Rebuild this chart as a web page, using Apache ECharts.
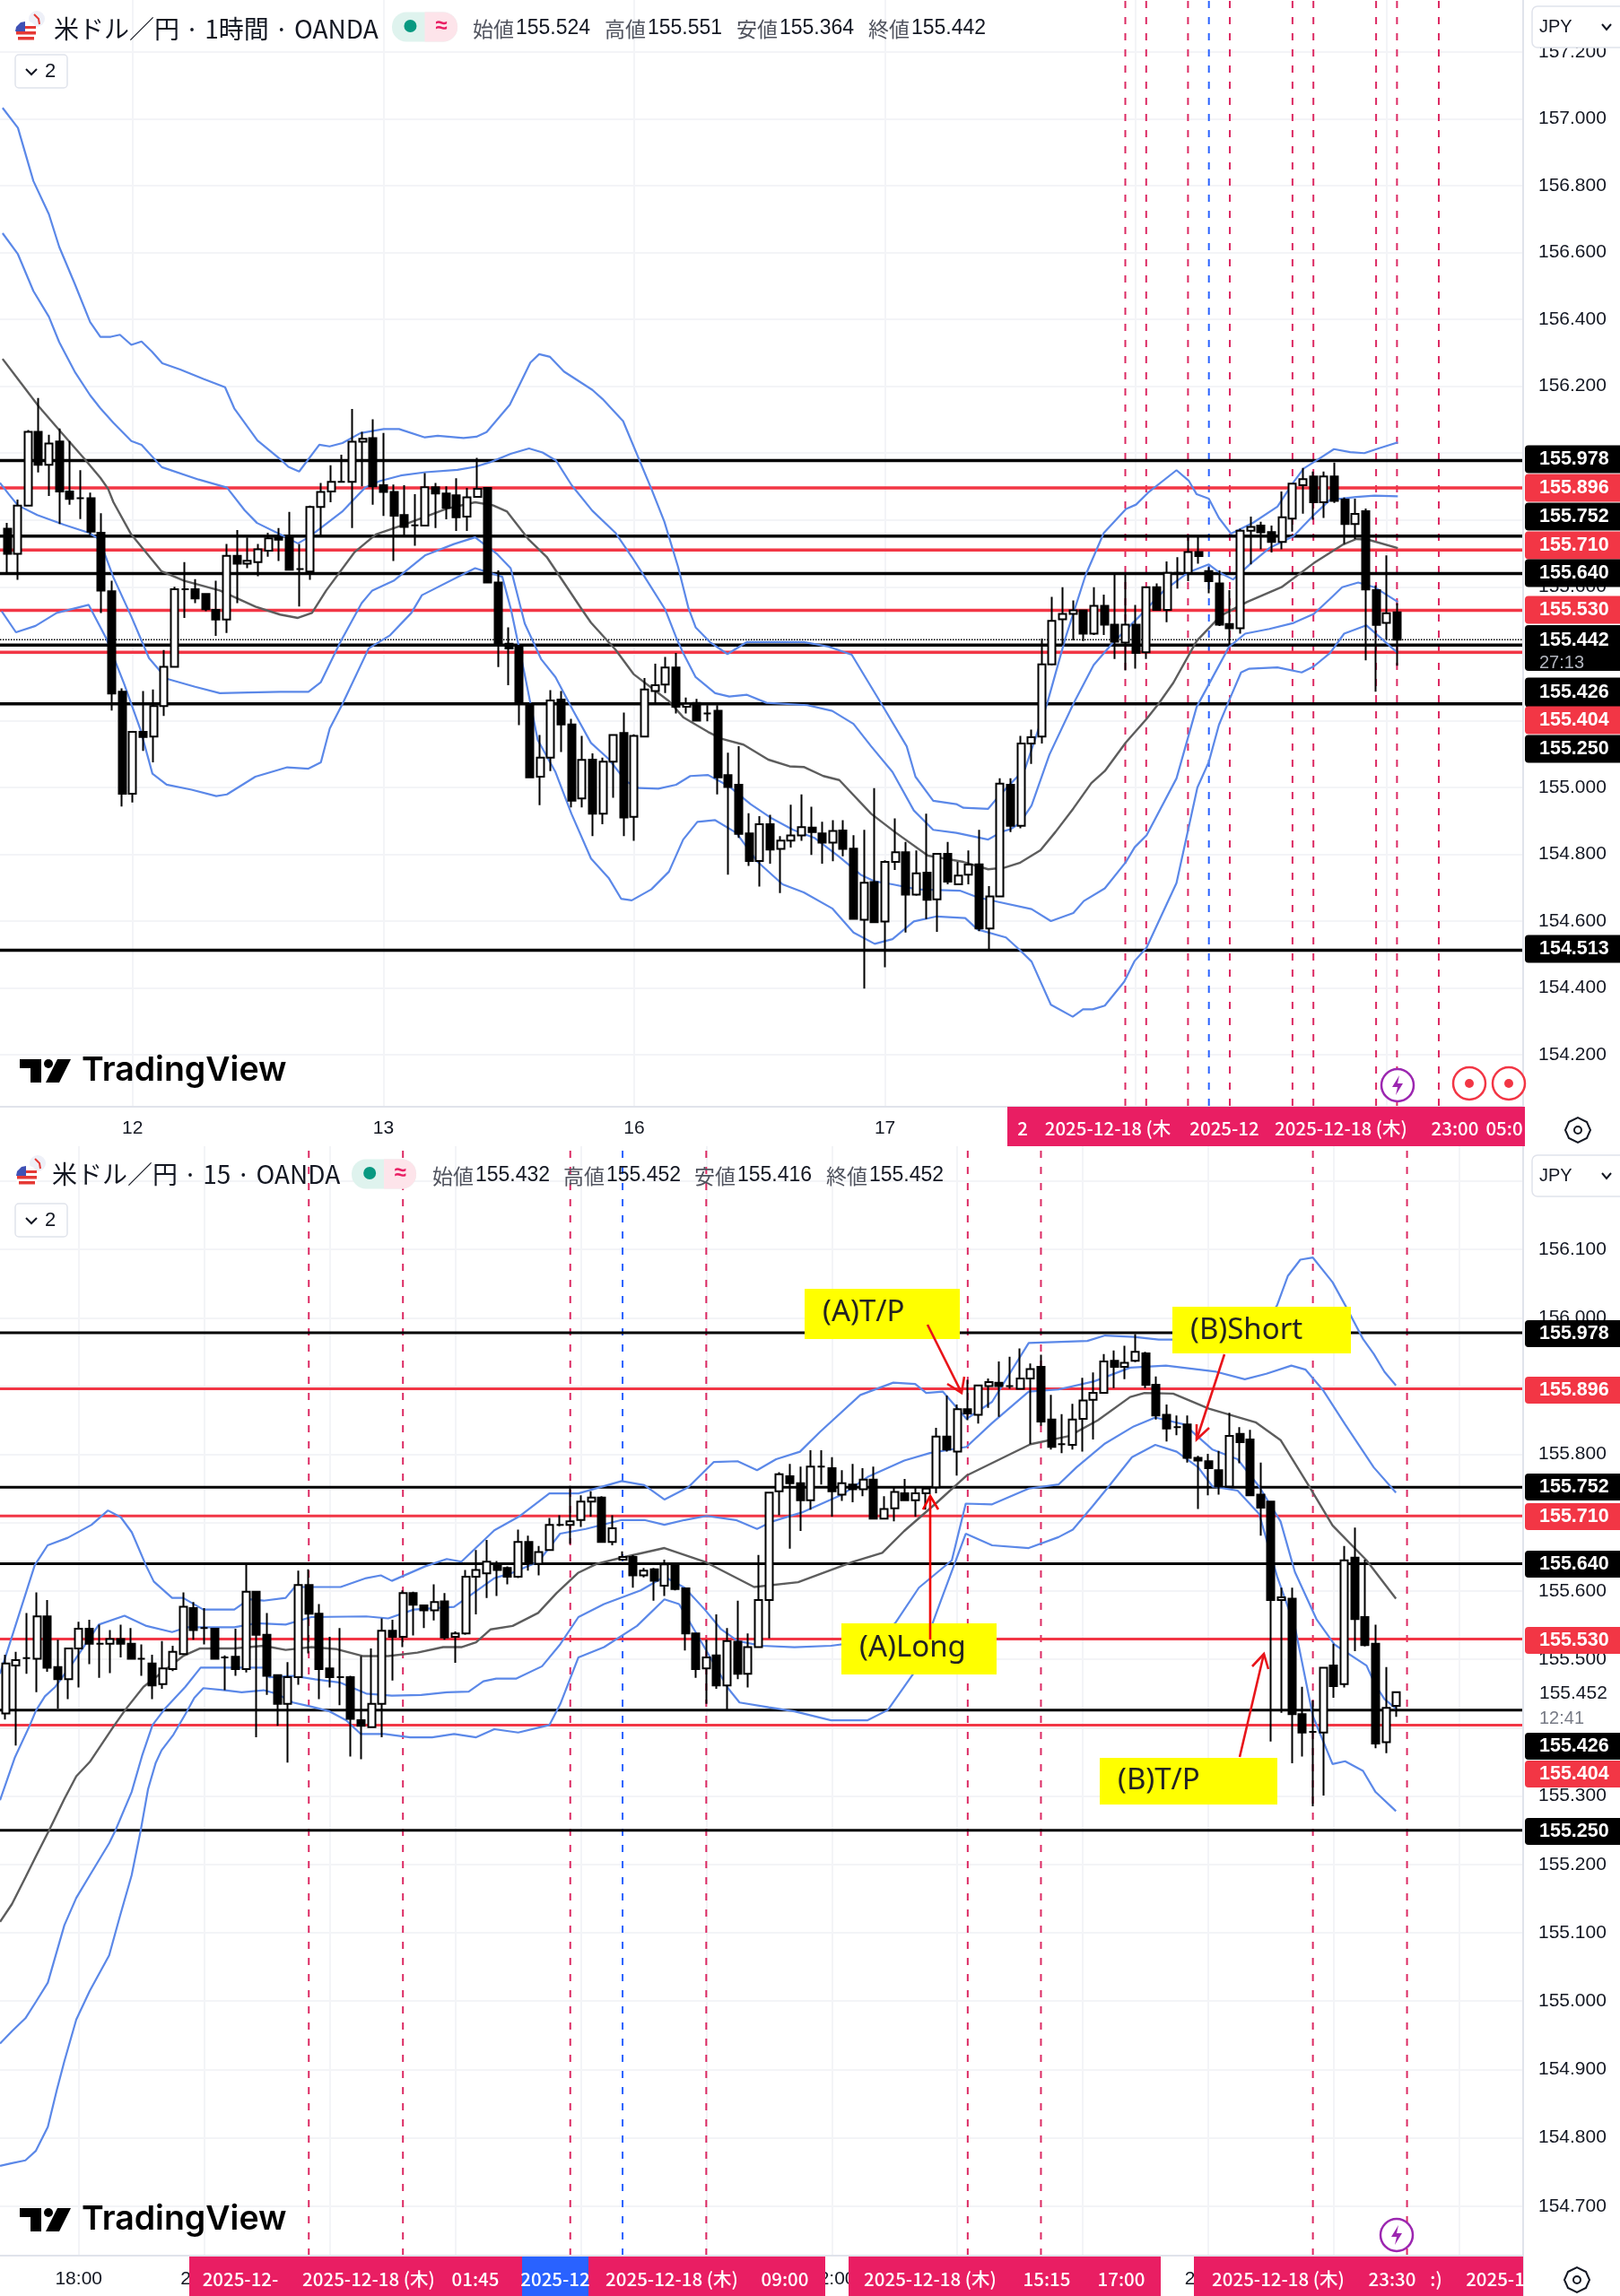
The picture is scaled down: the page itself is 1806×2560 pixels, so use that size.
<!DOCTYPE html>
<html>
<head>
<meta charset="utf-8">
<title>USDJPY</title>
<script src="https://cdn.jsdelivr.net/npm/echarts@6/dist/echarts.min.js"></script>
<style>
html, body { margin: 0; padding: 0; background: #fff; }
#chart { width: 1806px; height: 2560px; }
</style>
</head>
<body>
<div id="chart"></div>
<script>
// shared horizontal levels
const blackLevels = [155.978, 155.752, 155.64, 155.426, 155.25];
const redLevels = [155.896, 155.71, 155.53, 155.404];
const h1OnlyLevel = 154.513;
const h1LastPrice = 155.442;

// 1 hour chart, one row per bar: open, close, low, high
const h1Ohlc = [
[155.774,155.699,155.642,155.791],[155.699,155.843,155.621,155.861],[155.843,156.064,155.843,156.069],[156.064,155.965,155.942,156.165],
[155.965,156.029,155.872,156.055],[156.035,155.885,155.788,156.074],[155.885,155.863,155.846,156.036],[155.865,155.865,155.803,155.949],
[155.865,155.765,155.757,155.882],[155.762,155.589,155.522,155.82],[155.587,155.281,155.23,155.618],[155.286,154.981,154.943,155.296],
[154.981,155.166,154.955,155.166],[155.166,155.151,155.109,155.288],[155.152,155.243,155.075,155.293],[155.243,155.361,155.214,155.411],
[155.361,155.593,155.361,155.6],[155.593,155.593,155.507,155.674],[155.593,155.565,155.551,155.623],[155.579,155.533,155.527,155.579],
[155.531,155.502,155.453,155.618],[155.502,155.693,155.462,155.728],[155.693,155.669,155.551,155.77],[155.669,155.678,155.656,155.748],
[155.674,155.712,155.632,155.728],[155.708,155.745,155.69,155.762],[155.748,155.741,155.677,155.776],[155.749,155.651,155.651,155.824],
[155.653,155.653,155.541,155.728],[155.646,155.839,155.621,155.843],[155.839,155.884,155.752,155.911],[155.885,155.914,155.853,155.964],
[155.914,155.914,155.914,155.995],[155.914,156.034,155.776,156.132],[156.034,156.043,155.901,156.064],[156.045,155.901,155.846,156.101],
[155.904,155.884,155.812,156.06],[155.884,155.813,155.677,155.906],[155.815,155.779,155.752,155.904],[155.784,155.784,155.723,155.877],
[155.783,155.898,155.783,155.94],[155.898,155.879,155.776,155.911],[155.879,155.836,155.802,155.901],[155.874,155.808,155.767,155.925],
[155.81,155.868,155.767,155.896],[155.869,155.893,155.868,155.986],[155.896,155.613,155.61,155.896],[155.613,155.426,155.36,155.649],
[155.43,155.416,155.306,155.479],[155.424,155.25,155.186,155.424],[155.25,155.03,155.03,155.25],[155.032,155.089,154.947,155.157],
[155.089,155.26,155.049,155.291],[155.263,155.188,155.106,155.288],[155.188,154.96,154.94,155.205],[154.967,155.082,154.94,155.154],
[155.083,154.921,154.854,155.102],[154.921,155.077,154.89,155.089],[155.077,155.157,154.969,155.157],[155.163,154.91,154.854,155.224],
[154.912,155.154,154.84,155.159],[155.152,155.293,155.152,155.327],[155.288,155.306,155.25,155.37],[155.308,155.359,155.282,155.39],
[155.359,155.241,155.221,155.402],[155.241,155.25,155.221,155.269],[155.253,155.2,155.197,155.265],[155.221,155.221,155.198,155.246],
[155.229,155.03,154.979,155.246],[155.037,155.001,154.739,155.104],[155.008,154.861,154.849,155.123],[154.862,154.78,154.765,154.923],
[154.78,154.89,154.703,154.914],[154.89,154.814,154.772,154.918],[154.816,154.841,154.684,154.854],[154.841,154.856,154.82,154.948],
[154.856,154.881,154.84,154.979],[154.88,154.866,154.798,154.942],[154.862,154.835,154.772,154.897],[154.835,154.87,154.779,154.902],
[154.871,154.816,154.794,154.902],[154.817,154.607,154.604,154.857],[154.604,154.715,154.398,154.873],[154.717,154.597,154.597,154.998],
[154.599,154.777,154.462,154.782],[154.777,154.806,154.753,154.907],[154.806,154.679,154.566,154.837],[154.679,154.743,154.676,154.811],
[154.745,154.664,154.606,154.921],[154.665,154.801,154.568,154.801],[154.801,154.718,154.71,154.837],[154.71,154.736,154.708,154.777],
[154.739,154.769,154.71,154.811],[154.77,154.578,154.57,154.873],[154.578,154.674,154.513,154.705],[154.674,155.011,154.674,155.027],
[155.008,154.885,154.866,155.027],[154.885,155.131,154.878,155.154],[155.131,155.15,155.07,155.173],[155.152,155.368,155.131,155.445],
[155.368,155.498,155.365,155.57],[155.503,155.519,155.425,155.599],[155.519,155.53,155.44,155.559],[155.53,155.46,155.438,155.53],
[155.46,155.543,155.456,155.599],[155.543,155.487,155.456,155.577],[155.487,155.436,155.384,155.64],[155.433,155.487,155.35,155.638],
[155.487,155.402,155.355,155.546],[155.404,155.599,155.384,155.599],[155.599,155.531,155.531,155.61],[155.531,155.642,155.494,155.676],
[155.642,155.642,155.595,155.689],[155.642,155.704,155.617,155.752],[155.704,155.692,155.669,155.752],[155.647,155.617,155.581,155.659],
[155.61,155.487,155.483,155.649],[155.489,155.476,155.429,155.59],[155.476,155.768,155.46,155.774],[155.768,155.779,155.667,155.81],
[155.783,155.763,155.712,155.795],[155.764,155.734,155.703,155.783],[155.734,155.808,155.712,155.885],[155.804,155.909,155.765,155.909],
[155.904,155.922,155.819,155.956],[155.93,155.853,155.801,155.945],[155.853,155.93,155.806,155.945],[155.93,155.857,155.851,155.972],
[155.861,155.788,155.728,155.867],[155.788,155.818,155.743,155.864],[155.826,155.592,155.38,155.834],[155.59,155.486,155.286,155.604],
[155.492,155.521,155.442,155.694],[155.524,155.442,155.364,155.551]
];

// 1 hour bollinger bands and average: [bar index, price]
const h1Upper2 = [[-0.44,157.033],[1.03,156.973],[2.51,156.814],[3.99,156.715],[4.98,156.617],[6.46,156.507],[7.94,156.392],[8.92,156.348],[9.91,156.348],[10.79,156.354],[11.88,156.324],[12.86,156.334],[13.85,156.304],[14.84,156.269],[16.56,156.25],[18.78,156.222],[20.85,156.197],[21.73,156.134],[23.95,156.038],[26.17,155.981],[26.91,155.959],[27.94,155.945],[29.87,156.025],[30.85,156.02],[32.08,156.03],[33.81,156.06],[36.03,156.072],[37.5,156.072],[39.97,156.047],[41.2,156.052],[43.67,156.045],[44.9,156.049],[45.88,156.063],[48.1,156.145],[50.07,156.271],[50.91,156.296],[51.95,156.288],[53.28,156.244],[56,156.189],[56.97,156.162],[58.94,156.096],[61.65,155.893],[62.89,155.795],[64.2,155.66],[65.2,155.536],[65.88,155.479],[67.24,155.435],[68.93,155.399],[70.8,155.435],[76.23,155.435],[78.61,155.421],[80.82,155.397],[83.7,155.248],[86.08,155.123],[86.92,155.032],[88.62,154.96],[90.83,154.95],[91.51,154.939],[93.88,154.936],[94.9,154.974],[97.41,155.056],[99.52,155.251],[101.27,155.447],[103.2,155.635],[104.94,155.761],[107.07,155.833],[108.03,155.846],[109.19,155.882],[111.9,155.949],[113.06,155.918],[113.83,155.877],[114.99,155.864],[115.96,155.806],[117.12,155.759],[119.24,155.792],[121.56,155.84],[123.1,155.913],[124.07,155.954],[125.43,155.981],[126.97,156.012],[128.52,156.003],[129.87,156],[131.23,156.014],[133.08,156.032]];
const h1Upper1 = [[-0.44,156.658],[1.03,156.595],[2.51,156.485],[3.99,156.408],[4.98,156.332],[6.46,156.244],[7.94,156.173],[8.92,156.134],[10.15,156.091],[11.88,156.036],[12.86,156.025],[14.8,155.958],[18.32,155.921],[21.03,155.897],[22.73,155.829],[23.91,155.791],[26.12,155.757],[27.82,155.73],[28.83,155.748],[29.85,155.772],[32.06,155.825],[32.91,155.853],[34.26,155.897],[35.62,155.916],[37.66,155.933],[40.03,155.943],[43.09,155.95],[44.78,155.959],[46.14,155.972],[48.18,155.998],[49.94,156.014],[51.23,156.002],[52.52,155.978],[54.02,155.904],[55.99,155.828],[58.2,155.762],[59.77,155.69],[60.96,155.632],[62.99,155.531],[64,155.45],[64.69,155.402],[65.88,155.33],[67.75,155.282],[69.1,155.272],[70.8,155.277],[72.67,155.253],[76.57,155.246],[78.95,155.229],[80.99,155.19],[82.68,155.123],[84.72,155.046],[86.76,154.931],[88.62,154.873],[90.83,154.864],[93.88,154.844],[95.24,154.868],[96.02,154.875],[96.88,154.892],[98.03,154.946],[99.74,155.098],[102.03,155.25],[103.97,155.366],[105.71,155.429],[108.42,155.514],[110.74,155.59],[113.06,155.644],[114.99,155.667],[115.96,155.644],[117.31,155.622],[119.05,155.671],[120.79,155.716],[123.1,155.752],[125.04,155.815],[126.59,155.86],[129.1,155.869],[130.84,155.873],[133.08,155.871]];
const h1Middle = [[-0.44,156.282],[1.28,156.211],[3.01,156.14],[4.98,156.069],[7.44,155.981],[8.92,155.926],[9.66,155.893],[10.17,155.853],[11.87,155.757],[14.75,155.647],[16.96,155.618],[20.35,155.589],[23.75,155.541],[26.12,155.517],[27.82,155.507],[29.17,155.522],[30.53,155.589],[33.25,155.704],[35.28,155.757],[38,155.786],[40.03,155.81],[42.07,155.834],[44.78,155.853],[46.48,155.844],[47.84,155.825],[49.87,155.743],[51.62,155.69],[55.02,155.531],[55.87,155.493],[58.24,155.411],[59.94,155.339],[63.33,155.258],[64.69,155.21],[67.07,155.166],[68.42,155.145],[70.46,155.128],[72.84,155.083],[74.87,155.063],[76.23,155.061],[78.1,155.034],[79.63,155.022],[82.68,154.921],[85.06,154.864],[88.11,154.796],[91.51,154.777],[93.88,154.755],[95.45,154.76],[96.88,154.774],[98.88,154.812],[100.3,154.866],[102.03,154.937],[103.75,155.013],[105.04,155.049],[107.04,155.134],[109.04,155.205],[110.18,155.25],[111.6,155.313],[113.83,155.438],[116.15,155.514],[118.66,155.555],[121.95,155.599],[125.04,155.671],[127.75,155.725],[129.1,155.743],[130.26,155.741],[133.08,155.716]];
const h1Lower1 = [[-0.69,155.911],[0.16,155.877],[1.01,155.844],[2.88,155.815],[5.42,155.786],[7.8,155.762],[8.81,155.743],[10.17,155.628],[11.87,155.512],[13.57,155.387],[15.26,155.325],[17.98,155.301],[20.35,155.282],[23.07,155.284],[26.12,155.286],[28.83,155.286],[30.02,155.315],[31.89,155.435],[33.92,155.551],[34.94,155.589],[36.98,155.618],[40.03,155.695],[42.75,155.728],[44.78,155.748],[46.82,155.7],[48.18,155.656],[49.53,155.49],[51.11,155.383],[52.47,155.33],[54.17,155.229],[55.87,155.133],[57.56,155.085],[59.26,155.017],[60.45,154.998],[62.32,154.996],[64.01,155.008],[65.37,155.034],[67.07,155.037],[69.1,155.003],[71.14,154.95],[73.18,154.907],[75.21,154.873],[77.25,154.849],[79.63,154.792],[81.66,154.739],[83.02,154.719],[84.72,154.71],[87.09,154.695],[91.17,154.691],[92.87,154.671],[94.9,154.657],[98.03,154.636],[99.88,154.6],[102.03,154.624],[103.03,154.66],[105.04,154.698],[107.04,154.776],[107.9,154.821],[109.04,154.857],[111.9,155.027],[113.83,155.241],[116.92,155.42],[118.47,155.46],[120.79,155.474],[123.1,155.492],[125.04,155.519],[126.59,155.564],[127.75,155.599],[129.29,155.613],[130.84,155.599],[133.08,155.555]];
const h1Lower2 = [[-0.52,155.527],[0.84,155.464],[2.71,155.483],[4.74,155.522],[7.8,155.546],[9.49,155.445],[11.19,155.31],[12.72,155.176],[13.9,155.041],[15.26,155.008],[17.64,154.993],[20.01,154.974],[21.03,154.979],[23.75,155.032],[26.8,155.06],[28.83,155.056],[30.02,155.075],[30.87,155.176],[32.06,155.248],[34.6,155.416],[36.64,155.455],[38.68,155.522],[39.69,155.575],[44.78,155.656],[47.38,155.63],[48.23,155.53],[49.42,155.354],[50.77,155.142],[52.47,155.046],[54,154.921],[55.87,154.787],[57.56,154.729],[58.75,154.667],[59.77,154.662],[61.64,154.695],[63.33,154.748],[64.69,154.844],[66.05,154.897],[67.75,154.902],[69.78,154.864],[71.82,154.777],[74.2,154.71],[76.23,154.686],[78.95,154.638],[80.99,154.566],[83.02,154.532],[84.72,154.546],[86.76,154.599],[88.96,154.614],[91.68,154.609],[92.87,154.575],[95.58,154.551],[96.88,154.514],[98.03,154.479],[99.88,154.35],[101.97,154.314],[102.95,154.336],[103.89,154.336],[105.04,154.347],[106.9,154.419],[107.9,154.481],[109.04,154.521],[111.9,154.714],[113.9,155],[114.99,155.076],[115.96,155.187],[116.92,155.259],[118.08,155.344],[118.86,155.355],[121.56,155.359],[123.88,155.344],[125.04,155.362],[126.59,155.402],[127.94,155.46],[130.06,155.485],[133.08,155.402]];

// 15 minute chart, one row per bar: open, close, low, high
const m15Ohlc = [
[155.421,155.494,155.412,155.507],[155.491,155.499,155.374,155.511],[155.502,155.502,155.479,155.568],[155.501,155.563,155.452,155.598],
[155.563,155.488,155.482,155.587],[155.489,155.471,155.428,155.529],[155.471,155.516,155.442,155.516],[155.516,155.545,155.459,155.555],
[155.545,155.523,155.493,155.558],[155.523,155.523,155.473,155.551],[155.523,155.53,155.48,155.543],[155.53,155.523,155.503,155.551],
[155.523,155.501,155.5,155.546],[155.501,155.501,155.476,155.522],[155.494,155.462,155.442,155.507],[155.464,155.487,155.457,155.527],
[155.486,155.511,155.483,155.52],[155.508,155.577,155.507,155.598],[155.575,155.543,155.529,155.584],[155.546,155.546,155.522,155.575],
[155.545,155.501,155.5,155.545],[155.503,155.503,155.455,155.506],[155.504,155.486,155.476,155.545],[155.486,155.599,155.481,155.638],
[155.599,155.536,155.386,155.599],[155.536,155.476,155.448,155.568],[155.477,155.435,155.403,155.477],[155.435,155.474,155.349,155.496],
[155.474,155.609,155.463,155.63],[155.609,155.567,155.509,155.632],[155.567,155.486,155.442,155.581],[155.487,155.474,155.459,155.533],
[155.474,155.474,155.433,155.546],[155.474,155.413,155.358,155.476],[155.411,155.403,155.354,155.505],[155.401,155.435,155.4,155.516],
[155.435,155.542,155.386,155.56],[155.542,155.533,155.469,155.558],[155.533,155.597,155.518,155.601],[155.597,155.58,155.535,155.599],
[155.579,155.572,155.546,155.58],[155.572,155.584,155.557,155.61],[155.585,155.532,155.529,155.597],[155.533,155.538,155.495,155.541],
[155.538,155.621,155.536,155.631],[155.621,155.631,155.566,155.66],[155.626,155.643,155.59,155.675],[155.64,155.631,155.593,155.644],
[155.634,155.621,155.61,155.636],[155.621,155.672,155.619,155.69],[155.672,155.64,155.63,155.681],[155.64,155.657,155.623,155.666],
[155.66,155.697,155.659,155.707],[155.697,155.697,155.695,155.711],[155.697,155.702,155.669,155.754],[155.704,155.731,155.694,155.74],
[155.731,155.737,155.709,155.746],[155.737,155.672,155.672,155.739],[155.672,155.692,155.667,155.711],[155.646,155.65,155.645,155.658],
[155.65,155.623,155.605,155.653],[155.623,155.63,155.62,155.634],[155.632,155.615,155.586,155.634],[155.608,155.639,155.593,155.646],
[155.639,155.603,155.601,155.639],[155.604,155.538,155.513,155.604],[155.538,155.486,155.473,155.538],[155.487,155.503,155.435,155.529],
[155.506,155.462,155.457,155.566],[155.462,155.527,155.426,155.546],[155.526,155.479,155.471,155.586],[155.479,155.518,155.459,155.538],
[155.518,155.587,155.518,155.653],[155.587,155.744,155.531,155.745],[155.746,155.771,155.711,155.774],[155.768,155.758,155.662,155.786],
[155.758,155.733,155.688,155.782],[155.733,155.782,155.719,155.806],[155.782,155.782,155.756,155.806],[155.78,155.746,155.709,155.796],
[155.741,155.758,155.732,155.777],[155.756,155.749,155.73,155.786],[155.749,155.763,155.739,155.78],[155.763,155.706,155.706,155.782],
[155.706,155.72,155.706,155.739],[155.721,155.745,155.702,155.752],[155.743,155.733,155.733,155.764],[155.733,155.743,155.709,155.753],
[155.743,155.75,155.719,155.752],[155.752,155.826,155.743,155.839],[155.826,155.807,155.804,155.886],[155.804,155.866,155.769,155.873],
[155.866,155.86,155.85,155.909],[155.858,155.901,155.845,155.901],[155.9,155.906,155.868,155.911],[155.905,155.9,155.855,155.936],
[155.9,155.9,155.896,155.943],[155.896,155.911,155.896,155.955],[155.911,155.925,155.815,155.933],[155.928,155.848,155.842,155.946],
[155.851,155.811,155.807,155.887],[155.815,155.815,155.802,155.859],[155.814,155.851,155.807,155.874],[155.852,155.879,155.804,155.912],
[155.88,155.89,155.822,155.92],[155.89,155.936,155.89,155.947],[155.937,155.928,155.897,155.952],[155.928,155.934,155.91,155.959],
[155.937,155.95,155.935,155.976],[155.948,155.902,155.897,155.95],[155.902,155.857,155.851,155.914],[155.858,155.838,155.819,155.873],
[155.84,155.84,155.828,155.857],[155.844,155.795,155.788,155.857],[155.795,155.791,155.72,155.798],[155.79,155.78,155.74,155.801],
[155.777,155.753,155.741,155.805],[155.753,155.827,155.753,155.861],[155.83,155.818,155.787,155.84],[155.822,155.74,155.74,155.836],
[155.741,155.722,155.681,155.788],[155.731,155.587,155.38,155.731],[155.587,155.591,155.422,155.605],[155.589,155.42,155.348,155.605],
[155.42,155.393,155.358,155.46],[155.394,155.394,155.285,155.44],[155.393,155.488,155.301,155.488],[155.491,155.461,155.444,155.523],
[155.464,155.645,155.459,155.666],[155.649,155.559,155.512,155.693],[155.562,155.521,155.519,155.646],[155.523,155.377,155.37,155.551],
[155.379,155.429,155.363,155.489],[155.432,155.452,155.416,155.452]
];

// 15 minute bollinger bands and average: [bar index, price]
const m15Upper2 = [[-0.52,155.479],[0.53,155.529],[2.8,155.638],[4.03,155.667],[5.95,155.678],[8.23,155.697],[9.8,155.718],[11.03,155.708],[12.08,155.686],[13.48,155.636],[14.18,155.614],[15.93,155.59],[16.98,155.59],[18.91,155.573],[21.88,155.573],[23.28,155.588],[24.68,155.586],[26.79,155.59],[27.66,155.606],[32.04,155.606],[34.49,155.619],[35.89,155.623],[36.94,155.615],[40.09,155.636],[42.19,155.647],[43.59,155.643],[46.74,155.689],[49.2,155.71],[52,155.743],[53.99,155.743],[54.78,155.743],[58.91,155.761],[61.08,155.755],[63,155.734],[65.28,155.752],[67.73,155.789],[70,155.79],[71.86,155.777],[73.68,155.793],[75.96,155.804],[77.88,155.833],[81.73,155.887],[84.88,155.905],[86.98,155.903],[88.03,155.89],[89.61,155.892],[91.88,155.852],[94.33,155.877],[97.83,155.963],[103.43,155.966],[105.13,155.974],[107.87,155.972],[110.27,155.968],[111.64,155.968],[116,155.975],[120,155.985],[121.57,156.018],[122.6,156.061],[123.8,156.085],[125,156.088],[126.88,156.052],[128.42,156.009],[129.79,155.969],[130.82,155.947],[131.84,155.921],[132.94,155.901]];
const m15Upper1 = [[-0.52,155.294],[0.91,155.357],[2.34,155.404],[2.91,155.425],[3.77,155.446],[4.77,155.46],[6.48,155.496],[8.93,155.551],[11.38,155.564],[13.48,155.549],[15.93,155.54],[17.33,155.547],[21.88,155.547],[23.98,155.553],[26.79,155.551],[29.24,155.562],[34.49,155.563],[36.59,155.56],[39.04,155.573],[42.89,155.577],[46.74,155.619],[48.49,155.627],[50.95,155.643],[53.03,155.684],[55.48,155.691],[58.91,155.704],[61.08,155.704],[63,155.697],[64.93,155.704],[67.03,155.71],[69.83,155.704],[71.86,155.691],[73.33,155.702],[76.13,155.715],[79.98,155.741],[82.43,155.767],[85.93,155.791],[88.38,155.802],[91.88,155.811],[94.33,155.846],[97.83,155.892],[100.68,155.895],[104.1,155.907],[107.53,155.927],[110.95,155.93],[115.75,155.921],[118.49,155.91],[120.54,155.918],[122.94,155.93],[124.31,155.924],[126.02,155.893],[128.08,155.844],[130.82,155.781],[132.94,155.744]];
const m15Middle = [[-0.52,155.116],[0.62,155.142],[1.91,155.181],[2.91,155.212],[4.14,155.249],[5.63,155.296],[6.77,155.329],[8.06,155.35],[10.34,155.402],[11.49,155.427],[13.2,155.46],[16.98,155.505],[18.56,155.516],[21.88,155.516],[24.68,155.52],[26.79,155.514],[29.24,155.518],[31.69,155.515],[34.14,155.505],[36.59,155.505],[39.39,155.51],[41.84,155.518],[43.59,155.518],[45,155.525],[46.39,155.544],[48.49,155.549],[50.93,155.568],[52.68,155.597],[54.78,155.627],[56.53,155.64],[58.91,155.649],[63,155.663],[66.86,155.643],[71.58,155.606],[75.78,155.613],[81.03,155.643],[83.83,155.656],[85.93,155.688],[89.08,155.73],[91.88,155.769],[98.01,155.815],[101.7,155.827],[104.45,155.85],[107.53,155.884],[108.9,155.89],[111.64,155.889],[115.06,155.867],[119.52,155.847],[121.91,155.821],[124.65,155.753],[126.88,155.696],[130.13,155.645],[132.94,155.589]];
const m15Lower1 = [[-0.52,154.938],[0.62,154.956],[1.91,154.975],[2.91,154.999],[4.05,155.027],[5.63,155.111],[6.77,155.151],[8.06,155.184],[9.91,155.231],[10.49,155.249],[12.06,155.306],[13.06,155.359],[14.06,155.404],[15.2,155.427],[17.2,155.46],[18.66,155.488],[21.18,155.488],[24.68,155.488],[25.21,155.474],[27.49,155.476],[29.59,155.471],[32.04,155.466],[34.49,155.45],[36.94,155.447],[39.74,155.448],[42.19,155.452],[44.29,155.453],[45.69,155.468],[46.92,155.472],[48.85,155.472],[51.3,155.49],[53.03,155.522],[54.78,155.562],[57.23,155.581],[60.73,155.601],[63,155.621],[64.93,155.605],[66.86,155.573],[68.43,155.544],[70,155.527],[72.28,155.52],[75.43,155.518],[78.93,155.52],[82.43,155.527],[85.06,155.553],[87.33,155.605],[90.48,155.645],[91.81,155.728],[94.33,155.727],[97.83,155.75],[100.68,155.756],[102.39,155.781],[105.13,155.816],[107.87,155.841],[109.93,155.854],[112.67,155.844],[115.41,155.807],[117.8,155.793],[119.86,155.753],[121.91,155.702],[123.28,155.628],[125.34,155.559],[127.05,155.522],[130.13,155.491],[130.99,155.462],[131.84,155.442],[132.94,155.428]];
const m15Lower2 = [[-0.52,154.759],[0.62,154.763],[1.91,154.767],[2.91,154.781],[4.05,154.816],[4.91,154.87],[5.63,154.912],[6.77,154.973],[8.06,155.015],[9.91,155.067],[10.92,155.123],[12.06,155.184],[12.92,155.249],[13.63,155.31],[14.35,155.348],[14.92,155.367],[16.06,155.39],[17.2,155.42],[18.06,155.444],[18.92,155.458],[21,155.455],[22.58,155.452],[24.68,155.455],[25.91,155.45],[27.49,155.437],[29.24,155.431],[30.99,155.424],[32.56,155.411],[33.96,155.391],[36.24,155.391],[38.69,155.386],[40.79,155.386],[42.89,155.391],[45,155.386],[46.74,155.398],[49.02,155.393],[52,155.404],[53.05,155.435],[54.78,155.503],[57.23,155.518],[60.38,155.549],[63,155.588],[64.4,155.581],[65.98,155.54],[69.13,155.457],[70.18,155.437],[72.98,155.43],[75.43,155.424],[78.93,155.411],[82.43,155.411],[84.36,155.426],[86.98,155.483],[89.26,155.579],[91.81,155.684],[94.33,155.667],[97.83,155.663],[100.68,155.679],[102.05,155.69],[103.93,155.724],[105.47,155.753],[107.7,155.796],[109.93,155.814],[111.98,155.804],[114.04,155.781],[115.41,155.753],[117.8,155.747],[119.86,155.713],[121.57,155.622],[123.28,155.548],[125,155.417],[126.88,155.347],[128.08,155.351],[129.79,155.337],[130.99,155.306],[132.94,155.278]];

// vertical dashed markers, by bar index
const h1RedMarks = [107, 109, 113, 117, 123, 125, 131, 133, 137];
const h1BlueMarks = [115];
const m15RedMarks = [29, 38, 54, 67, 92, 99, 125, 134];
const m15BlueMarks = [59];

// axis ticks
const h1PriceTicks = [154.2, 154.4, 154.6, 154.8, 155, 155.2, 155.4, 155.6, 155.8, 156, 156.2, 156.4, 156.6, 156.8, 157, 157.2];
const m15PriceTicks = [154.7, 154.8, 154.9, 155, 155.1, 155.2, 155.3, 155.4, 155.5, 155.6, 155.7, 155.8, 155.9, 156, 156.1, 156.2];
const h1TimeTicks = [12, 36, 60, 84, 108, 132];
const h1TimeLabels = ['12', '13', '16', '17', '18', '19'];
const m15TimeTicks = [7, 19, 31, 43, 55, 67, 79, 91, 103, 115, 127, 139];
const m15TimeLabels = ['18:00', '21:00', '18', '03:00', '06:00', '09:00', '12:00', '15:00', '18:00', '21:00', '19', '03:00'];

const BLACK = '#000000', RED = '#f23645', PINK = '#e91e63', BLUE = '#2962ff';
const DASH_RED = '#dc2a63', BAND = '#5b88e8', AVG = '#5d5d5d', GRID = '#f3f4f7', TEXT = '#131722', FONT = '"Liberation Sans", Arial, sans-serif';
const CJK = '"Noto Sans CJK JP", sans-serif';

const h1X = [-0.687, 145.07], h1Y = [154.0473, 157.3556];
const m15X = [-0.523, 145.1], m15Y = [154.6276, 156.251];

function lineSeries(idx, data, color, width, z, type) {
  return {
    type: 'line', xAxisIndex: idx, yAxisIndex: idx, data: data, z: z,
    showSymbol: false, silent: true, smooth: false, animation: false,
    lineStyle: { color: color, width: width, type: type || 'solid' }
  };
}

function chartSeries(idx, ohlc, bands, middle, xr, yr, levels, reds, blues, levelWidth) {
  const list = [];
  reds.forEach(m => list.push(lineSeries(idx, [[m, yr[0]], [m, yr[1]]], DASH_RED, 2, 1, [8, 10])));
  blues.forEach(m => list.push(lineSeries(idx, [[m, yr[0]], [m, yr[1]]], BLUE, 2, 1, [8, 10])));
  levels.black.forEach(p => list.push(lineSeries(idx, [[xr[0], p], [xr[1], p]], BLACK, levelWidth, 2)));
  levels.red.forEach(p => list.push(lineSeries(idx, [[xr[0], p], [xr[1], p]], RED, levelWidth, 2)));
  bands.forEach(b => list.push(lineSeries(idx, b, BAND, 2.2, 3)));
  list.push(lineSeries(idx, middle, AVG, 2.4, 3));
  list.push({
    type: 'candlestick', xAxisIndex: idx, yAxisIndex: idx, z: 5, barWidth: 8.5, silent: true,
    data: ohlc.map((r, i) => [i, r[0], r[1], r[2], r[3]]),
    itemStyle: { color: '#ffffff', color0: '#000000', borderColor: '#000000', borderColor0: '#000000', borderWidth: 2 }
  });
  return list;
}

function xAxis(idx, range, ticks, labels, margin) {
  return {
    type: 'value', gridIndex: idx, min: range[0], max: range[1], scale: true,
    axisLine: { show: false },
    axisTick: { show: false, customValues: ticks },
    splitLine: { show: true, lineStyle: { color: GRID, width: 2 } },
    axisLabel: {
      customValues: ticks, margin: margin, fontSize: 21, color: TEXT, fontFamily: FONT,
      formatter: v => labels[ticks.indexOf(v)] || ''
    }
  };
}

function yAxis(idx, range, ticks) {
  return {
    type: 'value', gridIndex: idx, position: 'right', min: range[0], max: range[1], scale: true,
    axisLine: { show: false },
    axisTick: { show: false, customValues: ticks },
    splitLine: { show: true, lineStyle: { color: GRID, width: 2 } },
    axisLabel: {
      customValues: ticks, margin: 17, fontSize: 21, color: TEXT, fontFamily: FONT,
      formatter: v => v.toFixed(3)
    }
  };
}

// everything that sits on top of the two plots
const g = [];
function rect(x, y, w, h, fill, r, stroke) {
  g.push({ type: 'rect', z: 100, silent: true, shape: { x: x, y: y, width: w, height: h, r: r || 0 },
    style: { fill: fill, stroke: stroke || null, lineWidth: stroke ? 1.5 : 0 } });
}
function text(t, x, y, fill, size, family, weight, align) {
  g.push({ type: 'text', z: 101, silent: true,
    style: { text: t, x: x, y: y, fill: fill, fontSize: size, fontFamily: family || FONT, fontWeight: weight || 'normal', align: align || 'left', verticalAlign: 'middle' } });
}
function line(points, color, width) {
  g.push({ type: 'polyline', z: 100, silent: true, shape: { points: points }, style: { stroke: color, lineWidth: width, fill: null } });
}
function circle(x, y, r, fill, stroke, width) {
  g.push({ type: 'circle', z: 100, silent: true, shape: { cx: x, cy: y, r: r }, style: { fill: fill, stroke: stroke || null, lineWidth: width || 0 } });
}
function poly(points, fill, stroke, width) {
  g.push({ type: 'polygon', z: 100, silent: true, shape: { points: points }, style: { fill: fill, stroke: stroke || null, lineWidth: width || 0 } });
}

function flag(x, y) {
  circle(x + 12, y - 15, 9, '#eef0f8');
  circle(x, y, 12.5, '#ffffff');
  rect(x - 11, y - 1, 22, 3.5, '#e53935');
  rect(x - 9, y + 5, 18, 3.5, '#e53935');
  rect(x - 2, y - 7, 13, 3, '#e53935');
  poly([[x - 11, y - 6], [x - 6, y - 11], [x - 1, y - 12], [x - 1, y - 1], [x - 12, y - 1]], '#3f51b5');
  line([[x + 9, y - 20], [x + 14, y - 15], [x + 15, y - 9]], '#e53935', 2);
}

function pill(x, y, w) {
  const h = 33;
  rect(x, y - h / 2, w, h, '#dff3ee', 16);
  rect(x + w / 2, y - h / 2, w / 2, h, '#fde4ea', [0, 16, 16, 0]);
  circle(x + w * 0.28, y - 1, 7, '#089981');
  text('≈', x + w * 0.75, y - 1, '#e91e63', 24, FONT, 'bold', 'center');
}

function ohlcText(xs, y, values) {
  ['始値', '高値', '安値', '終値'].forEach((label, i) => {
    text(label, xs[i], y, '#50535e', 23, CJK);
    text(values[i], xs[i] + 48, y, TEXT, 23);
  });
}

function collapseBox(y) {
  rect(17, y, 58, 37, '#ffffff', 4, '#e0e3eb');
  line([[29, y + 16], [35, y + 22], [41, y + 16]], TEXT, 2);
  text('2', 50, y + 19, TEXT, 22);
}

function currencyBox(y) {
  rect(1708, y, 110, 46, '#ffffff', 6, '#e0e3eb');
  text('JPY', 1716, y + 23, TEXT, 20);
  line([[1786, y + 20], [1791, y + 26], [1796, y + 20]], TEXT, 2);
}

function logo(y) {
  const x = 22, h = 26;
  rect(x, y - h / 2, 24, 10, '#000000');
  rect(x + 12, y - h / 2, 12, h, '#000000');
  circle(x + 32, y - h / 2 + 5, 5, '#000000');
  poly([[x + 42, y - h / 2], [x + 57, y - h / 2], [x + 44, y + h / 2], [x + 29, y + h / 2]], '#000000');
  text('TradingView', 91, y, '#000000', 37.5, '"Inter", sans-serif', 600);
}

function hexIcon(x, y) {
  poly([[x - 10, y - 9], [x, y - 14], [x + 10, y - 9], [x + 14, y], [x + 10, y + 9], [x, y + 14], [x - 10, y + 9], [x - 14, y]], '#ffffff', TEXT, 2);
  circle(x, y, 4, '#ffffff', TEXT, 2);
}

function boltIcon(x, y) {
  circle(x, y, 18, '#ffffff', '#9c27b0', 2.5);
  poly([[x + 2, y - 11], [x - 6, y + 2], [x, y + 2], [x - 2, y + 11], [x + 6, y - 2], [x, y - 2]], '#9c27b0');
}

function pinIcon(x, y) {
  circle(x, y, 18, '#ffffff', '#f23645', 2.5);
  circle(x, y, 5, '#f23645');
}

function tag(label, y, fill, color, h) {
  rect(1700, y - h / 2, 106, h, fill, [4, 0, 0, 4]);
  text(label, 1716, y, color || '#ffffff', 21.5, FONT, 'bold');
}

function strip(x, y, w, h, fill) { rect(x, y, w, h, fill); }

function stripText(items, y) {
  items.forEach(it => text(it[0], it[1], y, '#ffffff', 20.5, CJK, 500, 'center'));
}

function note(label, tx, ty, x, y, w, h) {
  rect(x, y, w, h, '#ffff00');
  text(label, tx, ty, '#222222', 33, '"Noto Sans", sans-serif');
}

function arrow(from, tip, left, right, color) {
  line([from, tip], color, 2.6);
  line([left, tip, right], color, 2.6);
}

// frame
rect(1697, 0, 2, 2560, '#e0e3eb');
rect(0, 1233, 1698, 2, '#e0e3eb');
rect(0, 2514, 1698, 2, '#e0e3eb');

// top header
flag(29, 36);
text('米ドル／円 · 1時間 · OANDA', 60, 32, TEXT, 28, CJK);
pill(437, 30, 73);
ohlcText([527, 674, 821, 968], 32, ['155.524', '155.551', '155.364', '155.442']);
collapseBox(61);
currencyBox(7);
logo(1194);
boltIcon(1558, 1210);
pinIcon(1638, 1208);
pinIcon(1682, 1208);

// top time strip
strip(1123, 1234, 577, 44, PINK);
stripText([['2', 1140], ['2025-12-18 (木', 1235], ['2025-12', 1365], ['2025-12-18 (木)', 1495], ['23:00', 1622], ['05:0', 1677]], 1258);

// top price tags
tag('155.978', 512, BLACK, null, 31);
tag('155.896', 544, RED, null, 31);
tag('155.752', 576, BLACK, null, 31);
tag('155.710', 608, RED, null, 31);
tag('155.640', 639, BLACK, null, 31);
tag('155.530', 680, RED, null, 31);
rect(1700, 697, 106, 51, BLACK, [4, 0, 0, 4]);
text('155.442', 1716, 714, '#ffffff', 21.5, FONT, 'bold');
text('27:13', 1716, 739, '#b2b5be', 20);
tag('155.426', 772, BLACK, null, 33);
tag('155.404', 803, RED, null, 31);
tag('155.250', 835, BLACK, null, 31);
tag('154.513', 1058, BLACK, null, 31);
hexIcon(1759, 1260);

// bottom header
flag(30, 1312);
text('米ドル／円 · 15 · OANDA', 58, 1309, TEXT, 28, CJK);
pill(392, 1309, 72);
ohlcText([482, 628, 774, 921], 1311, ['155.432', '155.452', '155.416', '155.452']);
collapseBox(1342);
currencyBox(1288);
logo(2475);
boltIcon(1557, 2492);

// bottom time strips
strip(211, 2516, 371, 44, PINK);
strip(582, 2516, 74, 44, BLUE);
strip(656, 2516, 264, 44, PINK);
strip(946, 2516, 348, 44, PINK);
strip(1331, 2516, 367, 44, PINK);
stripText([['2025-12-', 268], ['2025-12-18 (木)', 411], ['01:45', 530], ['2025-12', 619], ['2025-12-18 (木)', 749], ['09:00', 875],
  ['2025-12-18 (木)', 1037], ['15:15', 1167], ['17:00', 1250], ['2025-12-18 (木)', 1425], ['23:30', 1552], [':)', 1601], ['2025-1', 1667]], 2541);

// bottom price tags
tag('155.978', 1487, BLACK, null, 30);
tag('155.896', 1550, RED, null, 30);
tag('155.752', 1658, BLACK, null, 30);
tag('155.710', 1691, RED, null, 30);
tag('155.640', 1744, BLACK, null, 30);
tag('155.530', 1829, RED, null, 30);
rect(1700, 1872, 106, 60, '#ffffff');
text('155.452', 1716, 1888, TEXT, 21);
text('12:41', 1716, 1916, '#787b86', 20);
tag('155.426', 1947, BLACK, null, 30);
tag('155.404', 1978, RED, null, 30);
tag('155.250', 2042, BLACK, null, 30);
hexIcon(1758, 2542);

// trade notes on the 15 minute chart
note('(A)T/P', 917, 1464, 897, 1437, 173, 56);
note('(A)Long', 958, 1838, 938, 1810, 173, 57);
note('(B)Short', 1327, 1484, 1307, 1457, 199, 52);
note('(B)T/P', 1246, 1986, 1226, 1960, 198, 52);
arrow([1034, 1477], [1072, 1553], [1056, 1543], [1075, 1535], '#e8141a');
arrow([1037, 1828], [1037, 1668], [1029, 1683], [1046, 1683], '#f00000');
arrow([1365, 1510], [1334, 1605], [1348, 1592], [1334, 1588], '#e8141a');
arrow([1382, 1959], [1409, 1844], [1396, 1858], [1414, 1861], '#e8141a');

const h1Dotted = lineSeries(0, [[h1X[0], h1LastPrice], [h1X[1], h1LastPrice]], BLACK, 1.5, 2, 'dotted');

const chart = echarts.init(document.getElementById('chart'));
chart.setOption({
  animation: false,
  backgroundColor: '#ffffff',
  grid: [
    { left: 0, top: 0, width: 1698, height: 1233 },
    { left: 0, top: 1278, width: 1698, height: 1237 }
  ],
  xAxis: [xAxis(0, h1X, h1TimeTicks, h1TimeLabels, 15), xAxis(1, m15X, m15TimeTicks, m15TimeLabels, 16)],
  yAxis: [yAxis(0, h1Y, h1PriceTicks), yAxis(1, m15Y, m15PriceTicks)],
  series: [
    ...chartSeries(0, h1Ohlc, [h1Upper2, h1Upper1, h1Lower1, h1Lower2], h1Middle, h1X, h1Y,
      { black: blackLevels.concat(h1OnlyLevel), red: redLevels }, h1RedMarks, h1BlueMarks, 3.5),
    h1Dotted,
    ...chartSeries(1, m15Ohlc, [m15Upper2, m15Upper1, m15Lower1, m15Lower2], m15Middle, m15X, m15Y,
      { black: blackLevels, red: redLevels }, m15RedMarks, m15BlueMarks, 3)
  ],
  graphic: { elements: g }
});
</script>
</body>
</html>
